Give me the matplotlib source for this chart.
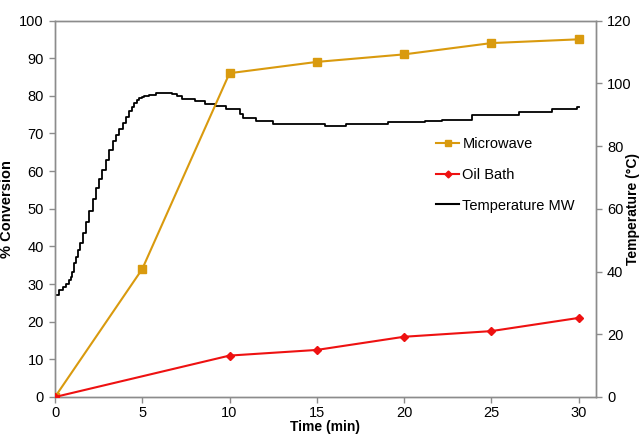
import matplotlib
matplotlib.use("Agg")
import matplotlib.pyplot as plt
from matplotlib.lines import Line2D

plt.rcParams['font.family'] = ['Liberation Sans', 'DejaVu Sans']

# Conversion data
time_pts = [0, 5, 10, 15, 20, 25, 30]
microwave = [0, 34, 86, 89, 91, 94, 95]
oil_time = [0, 10, 15, 20, 25, 30]
oil_bath = [0, 11, 12.5, 16, 17.5, 21]

# Temperature (MW) in degrees C
temp_time = [0, 0.25, 0.44, 0.63, 0.8, 0.91, 1.0, 1.1, 1.2, 1.3, 1.45, 1.58, 1.75,
             1.96, 2.15, 2.34, 2.53, 2.72, 2.9, 3.1, 3.3, 3.48, 3.67, 3.87, 4.05,
             4.25, 4.4, 4.53, 4.68, 4.82, 5.0, 5.1, 5.4, 5.77, 6.2, 6.7, 7.0, 7.3,
             8.05, 8.6, 9.14, 9.8, 10.6, 10.8, 11.5, 12.5, 13.0, 15.5, 16.7, 19.1,
             21.2, 22.2, 23.9, 26.6, 28.5, 29.9, 30.0]
temp_mw = [32.5, 34, 35, 36, 37.2, 38.4, 40, 42.6, 44.5, 46.8, 49.2, 52.2, 55.8,
           59.2, 63, 66.6, 69.6, 72.4, 75.6, 78.8, 81.6, 83.5, 85.4, 87.2, 89.2,
           91, 92.4, 93.6, 94.6, 95.3, 95.6, 96, 96.4, 96.8, 97, 96.5, 95.8, 95,
           94.2, 93.4, 92.9, 91.7, 90.2, 89, 88, 87.1, 87.1, 86.3, 87.1, 87.6,
           88, 88.3, 90, 90.7, 91.8, 92.4, 92.4]

left_ticks = list(range(0, 101, 10))
right_ticks = list(range(0, 121, 20))
x_ticks = [0, 5, 10, 15, 20, 25, 30]

mw_color = '#D99A0E'
oil_color = '#EE1111'
spine_color = '#8C8C8C'

fig = plt.figure(figsize=(6.44, 4.34), dpi=100)
ax = fig.add_axes([55/644, 1 - 397/434, (596 - 55)/644, (397 - 20.5)/434])
ax2 = ax.twinx()

ax2.plot(temp_time, temp_mw, color='black', lw=1.3, drawstyle='steps-post', zorder=1)
ax.plot(time_pts, microwave, color=mw_color, lw=1.5, marker='s', ms=5.5, zorder=3)
ax.plot(oil_time, oil_bath, color=oil_color, lw=1.5, marker='D', ms=4, zorder=3)
ax.set_zorder(ax2.get_zorder() + 1)
ax.patch.set_visible(False)

ax.set_xlim(0, 31)
ax.set_ylim(0, 100)
ax2.set_ylim(0, 120)
ax.set_xticks(x_ticks)
ax.set_yticks(left_ticks)
ax2.set_yticks(right_ticks)

for a in (ax, ax2):
    for s in a.spines.values():
        s.set_color(spine_color)
        s.set_linewidth(1.0)
    a.tick_params(colors='black', labelsize=10.5, length=4, width=1.0, color=spine_color,
                  direction='out', pad=4)
ax.tick_params(axis='x', pad=2.5)

ax.set_xlabel('Time (min)', fontsize=10, fontweight='bold', va='center')
ax.xaxis.set_label_coords(0.5, -(426.5 - 397)/376.5)
ax.set_ylabel('% Conversion', fontsize=10.5, fontweight='bold', labelpad=4)
ax2.set_ylabel('Temperature (°C)', fontsize=10, fontweight='bold', va='center')
ax2.yaxis.set_label_coords((633 - 55)/541, 0.5)

handles = [
    Line2D([], [], color=mw_color, lw=1.5, marker='s', ms=5),
    Line2D([], [], color=oil_color, lw=1.5, marker='D', ms=3.5),
    Line2D([], [], color='black', lw=1.5),
]
labels = ['Microwave', 'Oil Bath', 'Temperature MW']
ax.legend(handles, labels, loc='upper left', bbox_to_anchor=((436 - 55)/541, 1 - (137 - 20.5)/376.5),
          frameon=False, fontsize=10.5, handlelength=1.6, handletextpad=0.2,
          labelspacing=1.15, borderaxespad=0, borderpad=0)

fig.savefig('out.png', dpi=100)
